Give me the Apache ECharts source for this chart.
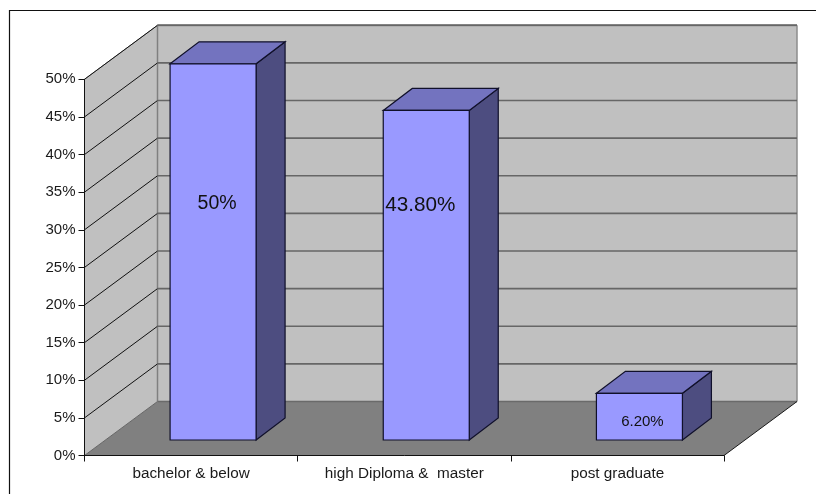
<!DOCTYPE html>
<html>
<head>
<meta charset="utf-8">
<style>html,body{margin:0;padding:0;background:#fff}#chart{width:816px;height:494px}</style>
<script src="https://cdn.jsdelivr.net/npm/echarts@6/dist/echarts.min.js"></script>
</head>
<body>
<div id="chart"></div>
<script>
// Education level shares, drawn as a box-shaped column chart.
const categories = ['bachelor & below', 'high Diploma &  master', 'post graduate'];
const shares = [50, 43.8, 6.2];
const shareLabels = ['50%', '43.80%', '6.20%'];
const gridTicks = [0, 5, 10, 15, 20, 25, 30, 35, 40, 45, 50];

// Projection of the chart box: how far the back wall sits from the axis plane.
const FLOOR_DX = 73, FLOOR_DY = -54;
// Columns stand inside the floor depth.
const BAR_SHIFT_X = 22, BAR_SHIFT_Y = -15.5, BAR_DX = 29, BAR_DY = -22, BAR_WIDTH = 86;
// Where each value label sits relative to the column's front-face base centre.
const LABEL_NUDGE = [[4, -236], [-6, -235], [3, -18]];
const LABEL_SIZE = [19.5, 20.7, 15];

const chart = echarts.init(document.getElementById('chart'), null, { renderer: 'canvas' });

function poly(points, fill, stroke, lineWidth) {
  return {
    type: 'polygon',
    shape: { points },
    style: { fill, stroke: stroke || 'none', lineWidth: lineWidth || 0 },
    silent: true
  };
}
function seg(a, b, stroke, lineWidth) {
  return {
    type: 'line',
    shape: { x1: a[0], y1: a[1], x2: b[0], y2: b[1] },
    style: { stroke, lineWidth },
    silent: true
  };
}

function renderRoom(params, api) {
  const c = params.coordSys;
  const L = c.x, R = c.x + c.width, T = c.y, B = c.y + c.height;
  const back = (p) => [p[0] + FLOOR_DX, p[1] + FLOOR_DY];
  return {
    type: 'group',
    children: [
      poly([[L, T], back([L, T]), back([L, B]), [L, B]], '#c0c0c0'),
      poly([back([L, T]), back([R, T]), back([R, B]), back([L, B])], '#c0c0c0'),
      poly([[L, B], [R, B], back([R, B]), back([L, B])], '#808080'),
      seg([L, T], back([L, T]), '#808080', 1),
      seg(back([L, T]), back([R, T]), '#808080', 2),
      seg(back([L, T]), back([L, B]), '#808080', 1.5),
      seg(back([R, T]), back([R, B]), '#8c8c8c', 1.5),
      seg(back([L, B]), back([R, B]), '#6a6a6a', 1.5),
      seg([L, B], back([L, B]), '#666666', 1),
      seg([R, B], back([R, B]), '#1a1a1a', 1)
    ]
  };
}

function renderGridLine(params, api) {
  const c = params.coordSys;
  const y = api.coord([0, api.value(1)])[1];
  const L = c.x, R = c.x + c.width;
  return {
    type: 'group',
    children: [
      seg([L, y], [L + FLOOR_DX, y + FLOOR_DY], '#111111', 1),
      seg([L + FLOOR_DX, y + FLOOR_DY], [R + FLOOR_DX, y + FLOOR_DY], '#666666', 1.6)
    ]
  };
}

function renderColumn(params, api) {
  const i = params.dataIndex;
  const top = api.coord([api.value(0), api.value(1)]);
  const base = api.coord([api.value(0), 0]);
  const xl = base[0] + BAR_SHIFT_X - BAR_WIDTH / 2;
  const xr = xl + BAR_WIDTH;
  const yb = base[1] + BAR_SHIFT_Y;
  const yt = top[1] + BAR_SHIFT_Y;
  const edge = '#10102a';
  const w = 1.2;
  return {
    type: 'group',
    children: [
      poly([[xr, yt], [xr + BAR_DX, yt + BAR_DY], [xr + BAR_DX, yb + BAR_DY], [xr, yb]], '#4d4d80', edge, w),
      poly([[xl, yt], [xl + BAR_DX, yt + BAR_DY], [xr + BAR_DX, yt + BAR_DY], [xr, yt]], '#7373bf', edge, w),
      poly([[xl, yt], [xr, yt], [xr, yb], [xl, yb]], '#9999ff', edge, w),
      {
        type: 'text',
        silent: true,
        style: {
          text: shareLabels[i],
          x: (xl + xr) / 2 + LABEL_NUDGE[i][0],
          y: yb + LABEL_NUDGE[i][1],
          align: 'center',
          verticalAlign: 'middle',
          fill: '#111111',
          font: LABEL_SIZE[i] + 'px "Liberation Sans", Arial, sans-serif'
        }
      }
    ]
  };
}

chart.setOption({
  animation: false,
  backgroundColor: '#ffffff',
  textStyle: { fontFamily: '"Liberation Sans", Arial, sans-serif' },
  grid: { left: 84.5, top: 79.3, width: 639.5, height: 376.2, containLabel: false },
  xAxis: {
    type: 'category',
    data: categories,
    z: 10,
    axisLine: { show: true, lineStyle: { color: '#111111', width: 1 } },
    axisTick: { show: true, alignWithLabel: false, length: 6, lineStyle: { color: '#111111', width: 1 } },
    axisLabel: { color: '#1a1a1a', fontSize: 15.3, margin: 11, interval: 0 },
    splitLine: { show: false }
  },
  yAxis: {
    type: 'value',
    min: 0,
    max: 50,
    interval: 5,
    z: 10,
    axisLine: { show: true, lineStyle: { color: '#111111', width: 1 } },
    axisTick: { show: true, length: 6, lineStyle: { color: '#111111', width: 1 } },
    axisLabel: { color: '#1a1a1a', fontSize: 15, margin: 9, padding: [2, 0, 0, 0], formatter: '{value}%' },
    splitLine: { show: false }
  },
  graphic: [
    { type: 'line', silent: true, z: 20, shape: { x1: 9.5, y1: 10.5, x2: 816, y2: 10.5 }, style: { stroke: '#111111', lineWidth: 1.2 } },
    { type: 'line', silent: true, z: 20, shape: { x1: 9.5, y1: 10, x2: 9.5, y2: 494 }, style: { stroke: '#111111', lineWidth: 1.2 } }
  ],
  series: [
    { type: 'custom', name: 'room', z: 1, silent: true, renderItem: renderRoom, data: [[0, 0]] },
    {
      type: 'custom', name: 'grid', z: 2, silent: true, renderItem: renderGridLine,
      data: gridTicks.filter((t) => t > 0).map((t) => [0, t])
    },
    {
      type: 'custom', name: 'share', z: 3, silent: true, renderItem: renderColumn,
      encode: { x: 0, y: 1 },
      data: shares.map((v, i) => [i, v])
    }
  ]
});
</script>
</body>
</html>
